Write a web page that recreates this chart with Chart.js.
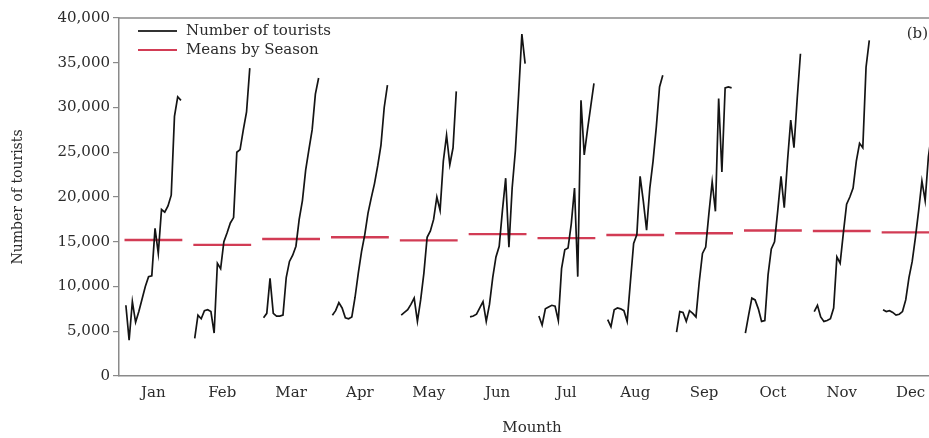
<!DOCTYPE html>
<html>
<head>
<meta charset="utf-8">
<title>Number of tourists by month</title>
<script src="https://cdn.jsdelivr.net/npm/chart.js@4/dist/chart.umd.min.js"></script>
<style>
  html, body { margin: 0; padding: 0; background: #fff; overflow: hidden; }
  #wrap { width: 945px; height: 438px; }
</style>
</head>
<body>
<div id="wrap"><canvas id="c" width="945" height="438"></canvas></div>
<script>
// Month categories and one sub-series (successive years) per month
const months = ['Jan', 'Feb', 'Mar', 'Apr', 'May', 'Jun', 'Jul', 'Aug', 'Sep', 'Oct', 'Nov', 'Dec'];

const jan = [7900, 4000, 8300, 6000, 7200, 8600, 10000, 11100, 11200, 16500, 13700, 18600, 18300, 19000, 20200, 29000, 31200, 30800];
const feb = [4200, 6800, 6400, 7300, 7400, 7200, 4800, 12600, 12000, 15000, 16000, 17100, 17700, 25000, 25300, 27500, 29500, 34400];
const mar = [6500, 7000, 10900, 7000, 6700, 6700, 6800, 11000, 12800, 13500, 14500, 17500, 19600, 23000, 25300, 27500, 31500, 33300];
const apr = [6800, 7300, 8200, 7600, 6500, 6400, 6600, 8800, 11500, 13900, 15800, 18200, 19900, 21500, 23500, 25800, 30000, 32500];
const may = [6800, 7100, 7400, 8000, 8700, 6100, 8500, 11500, 15500, 16200, 17500, 20000, 18500, 24000, 26900, 23600, 25500, 31800];
const jun = [6600, 6700, 6900, 7600, 8300, 6100, 8000, 11000, 13300, 14500, 18500, 22100, 14400, 21000, 25200, 31500, 38200, 34900];
const jul = [6700, 5700, 7500, 7700, 7900, 7800, 6200, 12000, 14100, 14300, 17000, 21000, 11100, 30800, 24700, 27500, 30100, 32700];
const aug = [6300, 5500, 7400, 7600, 7500, 7300, 6100, 10500, 14800, 15800, 22300, 19500, 16300, 21000, 24000, 27800, 32300, 33600];
const sep = [4900, 7200, 7100, 6100, 7300, 7000, 6600, 10500, 13700, 14400, 18200, 21700, 18400, 31000, 22800, 32200, 32300, 32200];
const oct = [4800, 6800, 8700, 8500, 7500, 6100, 6200, 11300, 14200, 15000, 18500, 22300, 18800, 24000, 28600, 25500, 31000, 36000];
const nov = [7200, 7900, 6600, 6100, 6200, 6400, 7600, 13300, 12600, 16000, 19200, 20000, 21000, 24000, 26000, 25500, 34500, 37500];
const dec = [7400, 7200, 7300, 7100, 6800, 6900, 7200, 8500, 11000, 12800, 15500, 18500, 21800, 19600, 24500, 27100, 31000, 34000];

const monthlySeries = [jan, feb, mar, apr, may, jun, jul, aug, sep, oct, nov, dec];

// Seasonal mean of each month
const seasonMeans = [15200, 14650, 15300, 15500, 15150, 15850, 15400, 15750, 15950, 16250, 16200, 16050];

// Axis tick values
const yTicks = [0, 5000, 10000, 15000, 20000, 25000, 30000, 35000, 40000];

// Texts
const seriesLabel = 'Number of tourists';
const meanLabel = 'Means by Season';
const xTitle = 'Mounth';
const yTitle = 'Number of tourists';
const panelTag = '(b)';

// Styling
const FONT = 'DejaVu Serif';
const TEXT = '#2b2b2b';
const AXIS = '#8a8a8a';
const LINE = '#141414';
const MEAN = '#d23c55';
const SERIES_HALF = 0.4;   // half-width of a month's sub-series along x
const MEAN_HALF = 0.42;    // half-width of a month's mean segment

const lineSets = monthlySeries.map((vals, m) => ({
  label: seriesLabel,
  data: vals.map((v, j) => ({ x: m + 1 + (j / (vals.length - 1) - 0.5) * 2 * SERIES_HALF, y: v })),
  borderColor: LINE,
  borderWidth: 1.7,
  pointRadius: 0,
  tension: 0,
  fill: false
}));

const meanSets = seasonMeans.map((v, m) => ({
  label: meanLabel,
  data: [{ x: m + 1 - MEAN_HALF, y: v }, { x: m + 1 + MEAN_HALF, y: v }],
  borderColor: MEAN,
  borderWidth: 2.4,
  pointRadius: 0,
  fill: false
}));

// Top frame line, inset key and panel tag
const frameAndKey = {
  id: 'frameAndKey',
  afterDraw(chart) {
    const { ctx, chartArea: a } = chart;
    ctx.save();
    ctx.strokeStyle = AXIS;
    ctx.lineWidth = 1.5;
    ctx.beginPath();
    ctx.moveTo(a.left, a.top);
    ctx.lineTo(a.right, a.top);
    ctx.stroke();

    const keys = [
      { text: seriesLabel, color: '#333333', width: 2.2 },
      { text: meanLabel, color: MEAN, width: 2.2 }
    ];
    ctx.font = '15px "' + FONT + '"';
    ctx.textBaseline = 'middle';
    ctx.textAlign = 'left';
    keys.forEach((k, i) => {
      const y = a.top + 13 + i * 19;
      ctx.strokeStyle = k.color;
      ctx.lineWidth = k.width;
      ctx.beginPath();
      ctx.moveTo(a.left + 19, y);
      ctx.lineTo(a.left + 58, y);
      ctx.stroke();
      ctx.fillStyle = TEXT;
      ctx.fillText(k.text, a.left + 67, y);
    });

    ctx.textAlign = 'right';
    ctx.fillText(panelTag, a.right - 17, a.top + 16);
    ctx.restore();
  }
};

new Chart(document.getElementById('c'), {
  type: 'line',
  data: { datasets: [...lineSets, ...meanSets] },
  options: {
    responsive: false,
    animation: false,
    devicePixelRatio: 1,
    layout: { padding: { top: 18, right: 0, bottom: 0, left: 0 } },
    plugins: { legend: { display: false }, tooltip: { enabled: false } },
    scales: {
      x: {
        type: 'linear',
        min: 0.5,
        max: 12.5,
        afterBuildTicks: s => { s.ticks = months.map((_, i) => ({ value: i + 1 })); },
        ticks: {
          callback: v => months[v - 1],
          font: { family: FONT, size: 15 },
          color: TEXT,
          padding: 8,
          maxRotation: 0,
          autoSkip: false
        },
        grid: { display: false, drawTicks: false },
        border: { display: true, color: AXIS, width: 1.5 },
        title: {
          display: true, text: xTitle, color: TEXT,
          font: { family: FONT, size: 15 },
          padding: { top: 0, bottom: 1 }
        },
        afterFit: s => { s.height = 62; }
      },
      y: {
        min: 0,
        max: 40000,
        afterBuildTicks: s => { s.ticks = yTicks.map(v => ({ value: v })); },
        ticks: {
          callback: v => v.toLocaleString('en-US'),
          font: { family: FONT, size: 15 },
          color: TEXT,
          padding: 3
        },
        grid: { drawOnChartArea: false, drawTicks: true, tickLength: 6, color: AXIS, lineWidth: 1.2 },
        border: { display: true, color: AXIS, width: 1.5 },
        title: {
          display: true, text: yTitle, color: TEXT,
          font: { family: FONT, size: 14 },
          padding: { top: 10, bottom: 0 }
        },
        afterFit: s => { s.width = 119; }
      }
    }
  },
  plugins: [frameAndKey]
});
</script>
</body>
</html>
